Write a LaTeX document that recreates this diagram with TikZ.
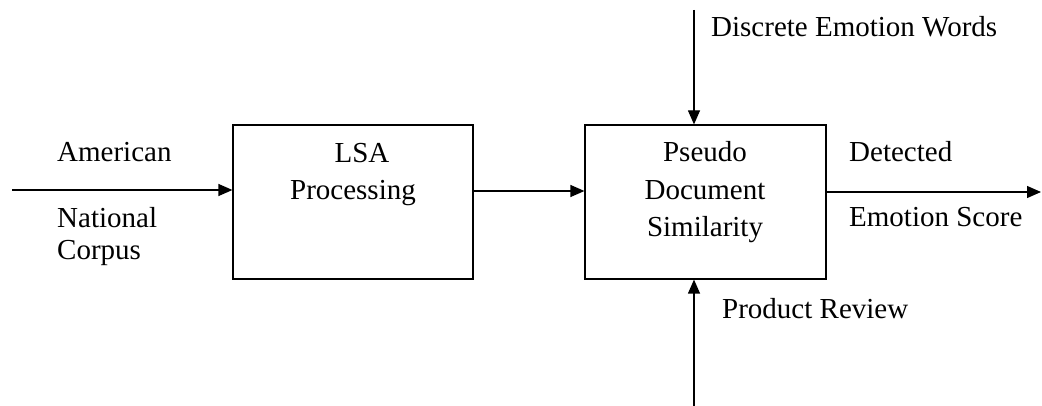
\documentclass[tikz,border=0pt]{standalone}
\usepackage{fontspec}
\setmainfont{Liberation Serif}
\usetikzlibrary{arrows.meta}
\begin{document}
\begin{tikzpicture}[x=1pt,y=-1pt,
  box/.style={draw,line width=1.2pt,minimum width=240pt,minimum height=154pt,inner sep=0pt},
  lbl/.style={font=\fontsize{29}{37.5}\selectfont,inner sep=0pt},
  arr/.style={line width=1.2pt,-{Triangle[length=14pt,width=12pt]}}]
\useasboundingbox (0,0) rectangle (1042,406);
\node[box] (lsa) at (353,202) {};
\node[box,minimum width=241pt] (pds) at (705.5,202) {};
\node[lbl,anchor=base,align=center] (lsaT) at (353,200) {\hspace*{18pt}LSA\\Processing};
\node[lbl,anchor=base,align=center] (pdsT) at (705,237) {Pseudo\\Document\\Similarity};
\node[lbl,anchor=base west] (amer) at (57,162) {American};
\node[lbl,anchor=base west,align=left] (natc) at (57,260) {National\\[-5pt]Corpus};
\node[lbl,anchor=base west] (det) at (849,162) {Detected};
\node[lbl,anchor=base west] (emo) at (849,227) {Emotion Score};
\node[lbl,anchor=base west] (dew) at (711,37) {Discrete Emotion Words};
\node[lbl,anchor=base west] (prv) at (722,319) {Product Review};
\coordinate (in1) at (12,190);
\coordinate (mid) at (473,191);
\coordinate (out1) at (1041,192);
\coordinate (top) at (694,10);
\coordinate (bot) at (694,406);
\draw[arr] (in1) -- (in1 -| lsa.west);
\draw[arr] (mid -| lsa.east) -- (mid -| pds.west);
\draw[arr] (out1 -| pds.east) -- (out1);
\draw[arr] (top) -- (top |- pds.north);
\draw[arr] (bot) -- (bot |- pds.south);
\end{tikzpicture}
\end{document}
